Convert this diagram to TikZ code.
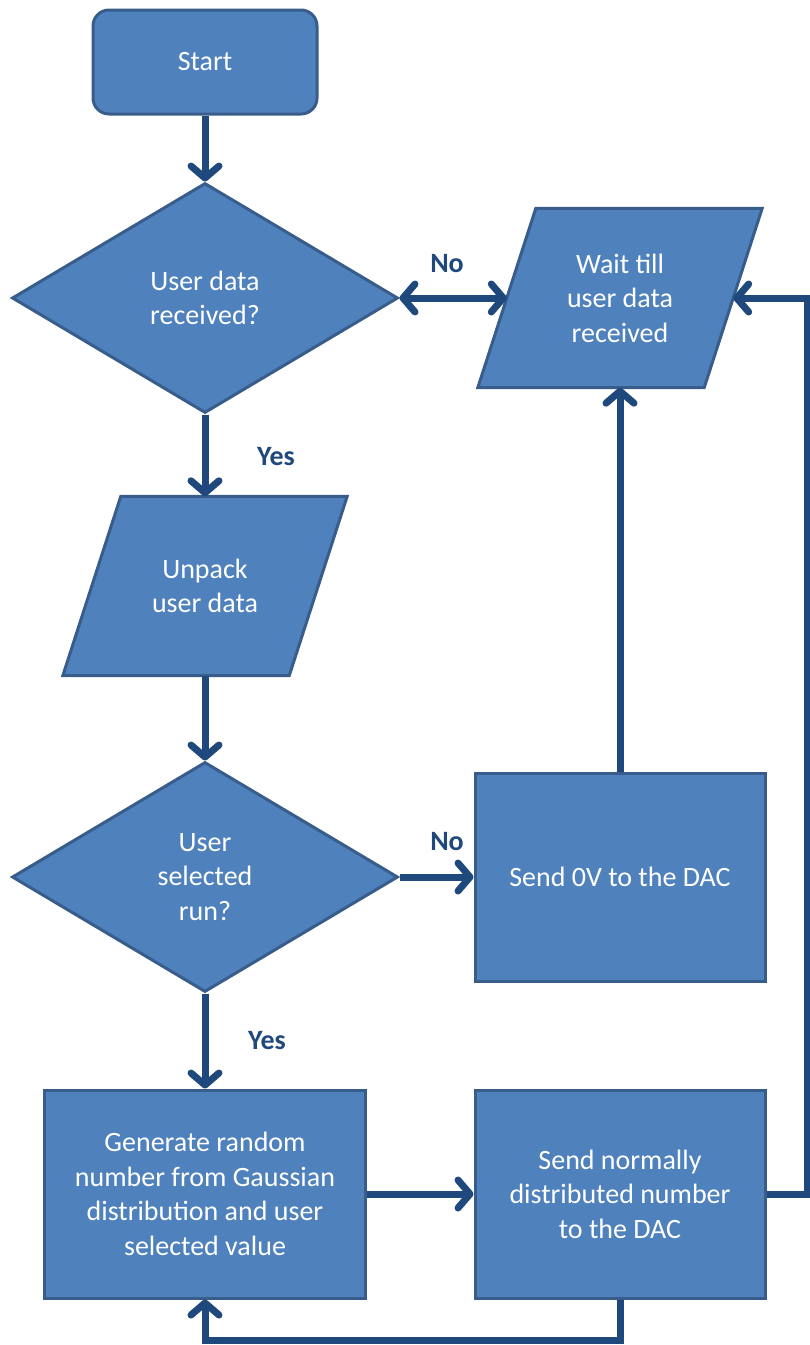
\documentclass[tikz,border=0pt]{standalone}
\usepackage{fontspec}
\setmainfont{Carlito}
\usetikzlibrary{shapes.geometric,arrows.meta,backgrounds}
\definecolor{fillc}{HTML}{4F81BD}
\definecolor{borderc}{HTML}{385D8A}
\definecolor{arrowc}{HTML}{1F497D}
\begin{document}
\begin{tikzpicture}[x=1pt,y=-1pt,
  box/.style={draw=borderc, line width=3pt, fill=fillc, text=white, align=center,
    font=\fontsize{28}{34.5}\selectfont, inner sep=0pt},
  rbox/.style={box, rectangle, minimum width=290pt, minimum height=208pt},
  dbox/.style={box, diamond, minimum width=386pt, minimum height=230pt},
  pbox/.style={rectangle, text=white, align=center, font=\fontsize{28}{34.5}\selectfont,
    inner sep=0pt, minimum width=226pt, minimum height=179pt},
  pshape/.style={draw=borderc, line width=3pt, fill=fillc, line join=miter},
  tipc/.tip={Straight Barb[length=12pt, width=28pt, round]},
  conn/.style={draw=arrowc, line width=7pt, -tipc},
  lbl/.style={text=arrowc, font=\bfseries\fontsize{28}{34}\selectfont, inner sep=0pt}
]
\useasboundingbox (0,0) rectangle (810,1345);
\node[box, rectangle, rounded corners=16pt, minimum width=224pt, minimum height=104pt] (start) at (205,62) {Start};
\node[dbox] (d1) at (205,298) {User data\\received?};
\node[pbox] (wait) at (620,298) {Wait till\\user data\\received};
\node[pbox] (unpack) at (205,586) {Unpack\\user data};
\begin{scope}[on background layer]
  \path[pshape] ([xshift=29pt]wait.north west) -- ([xshift=29pt]wait.north east)
    -- ([xshift=-29pt]wait.south east) -- ([xshift=-29pt]wait.south west) -- cycle;
  \path[pshape] ([xshift=29pt]unpack.north west) -- ([xshift=29pt]unpack.north east)
    -- ([xshift=-29pt]unpack.south east) -- ([xshift=-29pt]unpack.south west) -- cycle;
\end{scope}
\node[dbox] (d2) at (205,877) {User\\selected\\run?};
\node[rbox] (send0) at (620,877) {Send 0V to the DAC};
\node[rbox, minimum width=321pt] (gen) at (205,1194) {Generate random\\number from Gaussian\\distribution and user\\selected value};
\node[rbox] (sendn) at (620,1194) {Send normally\\distributed number\\to the DAC};

\draw[conn] (start) -- (d1);
\draw[conn, tipc-tipc] (d1.east) -- (wait.west);
\draw[conn] (d1) -- (unpack);
\draw[conn] (unpack) -- (d2);
\draw[conn] (d2.east) -- (send0.west);
\draw[conn] (send0) -- (wait);
\draw[conn] (d2) -- (gen);
\draw[conn] (gen) -- (sendn);
\draw[conn] (sendn.south) -- ++(0,41) -| (gen.south);
\draw[conn] (sendn.east) -- ++(41,0) |- (wait.east);

\node[lbl] (no1) at (447,264) {No};
\node[lbl] (yes1) at (276,457) {Yes};
\node[lbl] (no2) at (447,842) {No};
\node[lbl] (yes2) at (267,1041) {Yes};
\end{tikzpicture}
\end{document}
